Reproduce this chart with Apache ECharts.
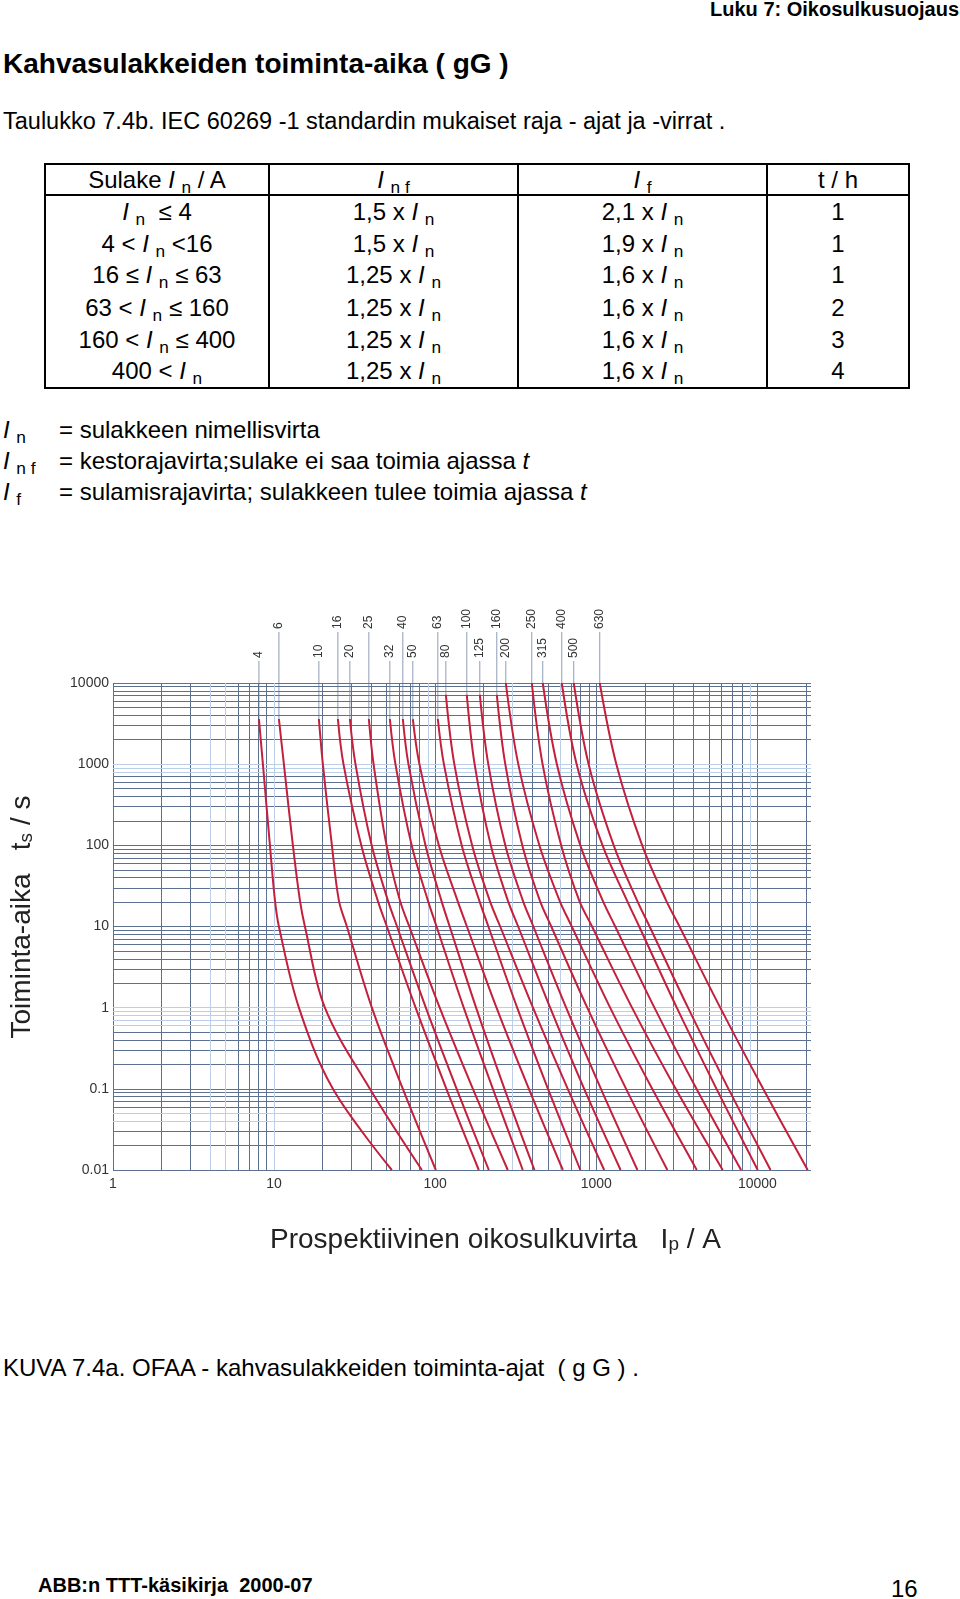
<!DOCTYPE html>
<html>
<head>
<meta charset="utf-8">
<title>Kahvasulakkeiden toiminta-aika</title>
<script src="https://cdn.jsdelivr.net/npm/echarts@6.0.0/dist/echarts.min.js"></script>
<style>
  html, body { margin: 0; padding: 0; background: #fff; }
  body { width: 960px; height: 1599px; position: relative; overflow: hidden;
         font-family: Arial, "Liberation Sans", Helvetica, sans-serif; color: #000; }
  .txt { position: absolute; white-space: nowrap; line-height: 1; font-size: 24px; }
  .b { font-weight: bold; }
  .i { font-style: italic; }
  .sub { font-size: 0.72em; position: relative; top: 0.3em; }
  .cell { position: absolute; white-space: nowrap; line-height: 1; font-size: 24px; text-align: center; }
  .rule { position: absolute; background: #000; }
  #chart { position: absolute; left: 0; top: 590px; width: 960px; height: 700px; }
</style>
</head>
<body>

<div class="txt b" style="right:1px;top:-1px;font-size:20px;">Luku 7: Oikosulkusuojaus</div>
<div class="txt b" style="left:3px;top:50px;font-size:28px;">Kahvasulakkeiden toiminta-aika ( gG )</div>
<div class="txt" style="left:3px;top:110px;font-size:23.5px;">Taulukko 7.4b. IEC 60269 -1 standardin mukaiset raja - ajat ja -virrat .</div>

<!-- taulukko -->
<div class="rule" style="left:44px;top:163px;width:866px;height:2px;"></div>
<div class="rule" style="left:44px;top:387px;width:866px;height:2px;"></div>
<div class="rule" style="left:44px;top:163px;width:2px;height:226px;"></div>
<div class="rule" style="left:908px;top:163px;width:2px;height:226px;"></div>
<div class="rule" style="left:44px;top:194px;width:866px;height:2px;"></div>
<div class="rule" style="left:268px;top:163px;width:2px;height:226px;"></div>
<div class="rule" style="left:517px;top:163px;width:2px;height:226px;"></div>
<div class="rule" style="left:766px;top:163px;width:2px;height:226px;"></div>
<div id="tablecells"></div>

<div class="txt" style="left:3px;top:418px;"><span class="i">I</span> <span class="sub">n</span></div>
<div class="txt" style="left:3px;top:449px;"><span class="i">I</span> <span class="sub">n f</span></div>
<div class="txt" style="left:3px;top:480px;"><span class="i">I</span> <span class="sub">f</span></div>
<div class="txt" style="left:59px;top:418px;">= sulakkeen nimellisvirta</div>
<div class="txt" style="left:59px;top:449px;">= kestorajavirta;sulake ei saa toimia ajassa <span class="i">t</span></div>
<div class="txt" style="left:59px;top:480px;">= sulamisrajavirta; sulakkeen tulee toimia ajassa <span class="i">t</span></div>

<div id="chart"></div>

<div class="txt" style="left:3px;top:1356px;">KUVA 7.4a. OFAA - kahvasulakkeiden toiminta-ajat&nbsp; ( g G ) .</div>
<div class="txt b" style="left:38px;top:1575px;font-size:20px;">ABB:n TTT-käsikirja&nbsp; 2000-07</div>
<div class="txt" style="left:891px;top:1577px;">16</div>

<script>
// taulukon rivit (IEC 60269-1)
const colEdges = [45, 269, 518, 767, 909];
const rowTops = [168, 200, 232, 263, 296, 328, 359];
const In = '<span class="i">I</span> <span class="sub">n</span>';
const tableRows = [
  ['Sulake ' + In + ' / A', '<span class="i">I</span> <span class="sub">n f</span>', '<span class="i">I</span> <span class="sub">f</span>', 't / h'],
  [In + ' &nbsp;&le; 4', '1,5 x ' + In, '2,1 x ' + In, '1'],
  ['4 &lt; ' + In + ' &lt;16', '1,5 x ' + In, '1,9 x ' + In, '1'],
  ['16 &le; ' + In + ' &le; 63', '1,25 x ' + In, '1,6 x ' + In, '1'],
  ['63 &lt; ' + In + ' &le; 160', '1,25 x ' + In, '1,6 x ' + In, '2'],
  ['160 &lt; ' + In + ' &le; 400', '1,25 x ' + In, '1,6 x ' + In, '3'],
  ['400 &lt; ' + In, '1,25 x ' + In, '1,6 x ' + In, '4']
];
let html = '';
tableRows.forEach((row, r) => {
  row.forEach((cell, c) => {
    html += '<div class="cell" style="left:' + colEdges[c] + 'px;width:' + (colEdges[c + 1] - colEdges[c]) +
      'px;top:' + rowTops[r] + 'px;">' + cell + '</div>';
  });
});
document.getElementById('tablecells').innerHTML = html;

// kahvasulakkeiden nimellisvirrat / A
const fuseRatings = [4, 6, 10, 16, 20, 25, 32, 40, 50, 63, 80, 100, 125, 160, 200, 250, 315, 400, 500, 630];
// käyrän alkuaika / s (1 h, 2 h, muut alkavat kuvan yläreunasta)
const startTimes = [3600, 3600, 3600, 3600, 3600, 3600, 3600, 3600, 3600, 3600,
                    7200, 7200, 7200, 7200, 10000, 10000, 10000, 10000, 10000, 10000];
// ajat joilla virrat on luettu / s
const timeLevels = [1000, 100, 21, 10, 1, 0.1, 0.01];

// virrat / A: [alkuhetki, 1000 s, 100 s, 21 s, 10 s, 1 s, 0.1 s, 0.01 s]
const c4 = [8.05, 8.52, 9.42, 10.12, 10.71, 14.25, 23.16, 53.8];
const c6 = [10.71, 11.5, 13.08, 14.46, 15.53, 20.66, 39.3, 82.6];
const c10 = [18.96, 20.07, 22.84, 25.23, 28.29, 40.44, 62.95, 100.9];
const c16 = [24.88, 26.95, 34.75, 43.93, 50.1, 75.55, 117.3, 186.4];
const c20 = [29.53, 31.99, 40.32, 50.82, 57.94, 87.44, 135.8, 215.1];
const c25 = [38.73, 41.43, 49.88, 60.31, 69.07, 106.6, 171.3, 282.1];
const c32 = [52.29, 56.63, 71.4, 89.99, 101.9, 150.3, 228.0, 349.5];
const c40 = [62.95, 68.19, 86.96, 109.1, 123.0, 179.3, 269.1, 413.0];
const c50 = [72.61, 79.8, 105.3, 137.3, 157.3, 240.1, 381.3, 619.7];
const c63 = [103.8, 113.2, 146.0, 187.5, 213.8, 322.6, 501.0, 795.6];
const c80 = [116.4, 131.4, 169.4, 217.6, 253.1, 404.3, 664.5, 1119];
const c100 = [157.0, 175.6, 221.3, 282.1, 327.2, 516.9, 840.3, 1415];
const c125 = [189.1, 213.5, 272.2, 349.5, 406.6, 649.5, 1068, 1799];
const c160 = [241.1, 272.2, 347.0, 445.6, 525.1, 878.3, 1530, 2761];
const c200 = [274.2, 327.7, 443.1, 590.3, 703.8, 1218, 2222, 4202];
const c250 = [397.5, 463.8, 604.8, 782.2, 940.4, 1665, 3109, 6085];
const c315 = [465.0, 568.9, 795.6, 1094, 1310, 2293, 4183, 7913];
const c400 = [610.2, 754.8, 1093, 1548, 1845, 3158, 5570, 10040];
const c500 = [724.0, 895.9, 1282, 1789, 2141, 3706, 6609, 12060];
const c630 = [1050, 1331, 1926, 2710, 3282, 5877, 10850, 20510];
const curves = [c4, c6, c10, c16, c20, c25, c32, c40, c50, c63,
                c80, c100, c125, c160, c200, c250, c315, c400, c500, c630];

const xTickLabels = ['1', '10', '100', '1000', '10000'];
const yTickLabels = ['0.01', '0.1', '1', '10', '100', '1000', '10000'];

// ruudukon viivat, vaaleat kohdat kuten kuvassa
const xLight = [4, 5, 10, 90, 300, 600, 9000];
const yLight = [1000, 900, 800, 1, 0.9, 0.8, 0.7, 0.6, 0.05, 0.04];

function logLines(from, to) {
  const out = [];
  for (let d = from; d < to; d *= 10) {
    for (let k = 1; k < 10; k++) out.push(+(d * k).toPrecision(6));
  }
  out.push(to);
  return out;
}
const xLines = logLines(1, 10000).concat([20000]);
const yLines = logLines(0.01, 10000);
const near = (a, list) => list.some(v => Math.abs(v / a - 1) < 1e-6);

function gridSeries(color, xs, ys, z) {
  return {
    type: 'line', data: [], silent: true, z: z,
    markLine: {
      silent: true, symbol: ['none', 'none'], label: { show: false },
      lineStyle: { color: color, width: 1, type: 'solid' },
      emphasis: { disabled: true },
      data: xs.map(v => ({ xAxis: v })).concat(ys.map(v => ({ yAxis: v })))
    }
  };
}

const fmt = v => String(+(+v).toPrecision(6));

const curveSeries = curves.map((c, i) => ({
  name: fuseRatings[i] + ' A',
  type: 'line',
  smooth: 0.35,
  showSymbol: false,
  symbol: 'none',
  z: 5,
  lineStyle: { color: '#c3203c', width: 2 },
  data: [[c[0], startTimes[i]]].concat(timeLevels.map((t, j) => [c[j + 1], t]))
}));

const labelSeries = {
  type: 'custom',
  z: 4,
  clip: false,
  silent: true,
  data: fuseRatings.map((r, i) => [curves[i][0], startTimes[i], r, i % 2]),
  renderItem: function (params, api) {
    const pt = api.coord([api.value(0), api.value(1)]);
    const yText = api.value(3) ? 39 : 68;
    return {
      type: 'group',
      children: [
        { type: 'line', shape: { x1: pt[0], y1: yText + 3, x2: pt[0], y2: pt[1] },
          style: { stroke: '#8d9cb6', lineWidth: 1 } },
        { type: 'text', x: pt[0], y: yText, rotation: Math.PI / 2,
          style: { text: String(api.value(2)), fill: '#333', font: '12px Arial',
                   align: 'left', verticalAlign: 'middle' } }
      ]
    };
  }
};

const myChart = echarts.init(document.getElementById('chart'));
myChart.setOption({
  animation: false,
  grid: { left: 113, top: 93, width: 698, height: 487, containLabel: false },
  xAxis: {
    type: 'log', logBase: 10, min: 1, max: 21500,
    axisLine: { show: false }, axisTick: { show: false }, splitLine: { show: false },
    axisLabel: {
      color: '#333', fontSize: 14, fontFamily: 'Arial', margin: 7,
      formatter: v => xTickLabels.includes(fmt(v)) ? fmt(v) : ''
    }
  },
  yAxis: {
    type: 'log', logBase: 10, min: 0.01, max: 10000,
    axisLine: { show: false }, axisTick: { show: false }, splitLine: { show: false },
    axisLabel: {
      color: '#333', fontSize: 14, fontFamily: 'Arial', margin: 4,
      formatter: v => yTickLabels.includes(fmt(v)) ? fmt(v) : ''
    }
  },
  graphic: [
    { type: 'text', x: 22, y: 327, rotation: Math.PI / 2, silent: true,
      style: { text: '{a|Toiminta-aika   t}{s|s}{a| / s}', align: 'center', verticalAlign: 'middle',
               textAlign: 'center', textVerticalAlign: 'middle', fill: '#222',
               rich: { a: { fontSize: 28, fontFamily: 'Arial', fill: '#222', verticalAlign: 'bottom' },
                       s: { fontSize: 19, fontFamily: 'Arial', fill: '#222', verticalAlign: 'bottom' } } } },
    { type: 'text', x: 270, y: 650, silent: true,
      style: { text: '{a|Prospektiivinen oikosulkuvirta   I}{s|p}{a| / A}', align: 'left', verticalAlign: 'middle',
               textAlign: 'left', textVerticalAlign: 'middle', fill: '#222',
               rich: { a: { fontSize: 28, fontFamily: 'Arial', fill: '#222', verticalAlign: 'bottom' },
                       s: { fontSize: 19, fontFamily: 'Arial', fill: '#222', verticalAlign: 'bottom' } } } }
  ],
  series: [
    gridSeries('#5d7090', xLines.filter(v => !near(v, xLight)), yLines.filter(v => !near(v, yLight)), 1),
    gridSeries('#bccfe8', xLines.filter(v => near(v, xLight)), yLines.filter(v => near(v, yLight)), 1),
    labelSeries
  ].concat(curveSeries)
});
</script>
</body>
</html>
